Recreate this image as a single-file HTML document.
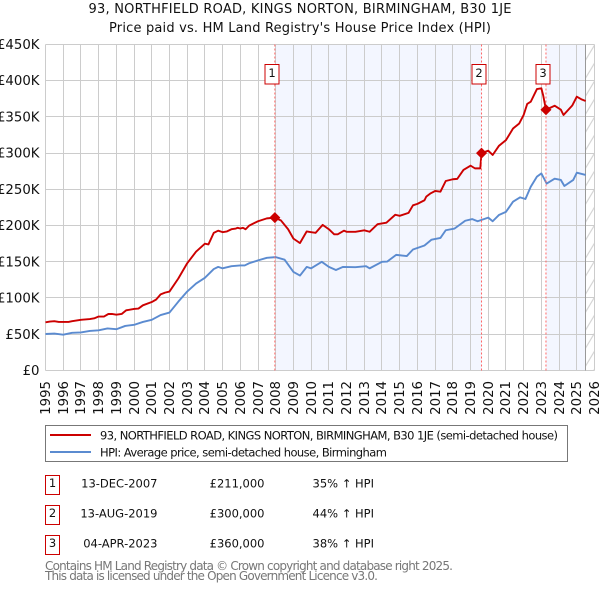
<!DOCTYPE html>
<html>
<head>
<meta charset="utf-8">
<style>
html,body{margin:0;padding:0;background:#fff;width:600px;height:590px;overflow:hidden}
svg{display:block}
text{font-family:"DejaVu Sans","Liberation Sans",sans-serif;fill:#111}
</style>
</head>
<body>
<svg id="chart" width="600" height="590" viewBox="0 0 600 590" xmlns="http://www.w3.org/2000/svg">
<defs>
<pattern id="hatch" patternUnits="userSpaceOnUse" x="584.8" y="44" width="10" height="18">
<path d="M-1 19 L11 -1" stroke="#ccc" stroke-width="1" fill="none"/>
</pattern>
</defs>
<text x="300" y="13" font-size="13" text-anchor="middle" textLength="423">93, NORTHFIELD ROAD, KINGS NORTON, BIRMINGHAM, B30 1JE</text>
<text x="300" y="32" font-size="13" text-anchor="middle" textLength="382">Price paid vs. HM Land Registry's House Price Index (HPI)</text>
<g id="shading"></g>
<g id="grid"></g>
<g id="series"></g>
<g id="markers"></g>
<g id="ticks"></g>

<g>
<rect x="45.5" y="425.5" width="522" height="36" fill="#fff" stroke="#777" stroke-width="1"/>
<line x1="50" x2="91" y1="435" y2="435" stroke="#cc0000" stroke-width="2"/>
<line x1="50" x2="91" y1="452" y2="452" stroke="#5b8bd0" stroke-width="2"/>
<text x="100" y="439.5" font-size="11.5" textLength="458">93, NORTHFIELD ROAD, KINGS NORTON, BIRMINGHAM, B30 1JE (semi-detached house)</text>
<text x="100" y="456.5" font-size="11.5" textLength="287">HPI: Average price, semi-detached house, Birmingham</text>
</g>

<g font-size="11.5">
<rect x="45.5" y="475.5" width="14" height="19" fill="#fff" stroke="#cc0000" stroke-width="1"/>
<text x="52.5" y="487" font-size="11.5" text-anchor="middle">1</text>
<text x="157.5" y="487.5" text-anchor="end" font-size="11.5">13-DEC-2007</text>
<text x="264.5" y="487.5" text-anchor="end" font-size="11.5">£211,000</text>
<text x="312.5" y="487.5" font-size="11.5">35% ↑ HPI</text>
<rect x="45.5" y="505.5" width="14" height="19" fill="#fff" stroke="#cc0000" stroke-width="1"/>
<text x="52.5" y="517" font-size="11.5" text-anchor="middle">2</text>
<text x="157.5" y="517.5" text-anchor="end" font-size="11.5">13-AUG-2019</text>
<text x="264.5" y="517.5" text-anchor="end" font-size="11.5">£300,000</text>
<text x="312.5" y="517.5" font-size="11.5">44% ↑ HPI</text>
<rect x="45.5" y="535.5" width="14" height="19" fill="#fff" stroke="#cc0000" stroke-width="1"/>
<text x="52.5" y="547" font-size="11.5" text-anchor="middle">3</text>
<text x="157.5" y="547.5" text-anchor="end" font-size="11.5">04-APR-2023</text>
<text x="264.5" y="547.5" text-anchor="end" font-size="11.5">£360,000</text>
<text x="312.5" y="547.5" font-size="11.5">38% ↑ HPI</text>
</g>

<text x="45" y="570" font-size="12" style="fill:#777" textLength="408">Contains HM Land Registry data © Crown copyright and database right 2025.</text>
<text x="45" y="580" font-size="12" style="fill:#777" textLength="333">This data is licensed under the Open Government Licence v3.0.</text>
</svg>
<script>
const yTickValues = [0, 50, 100, 150, 200, 250, 300, 350, 400, 450];
const yTickLabels = ['£0', '£50K', '£100K', '£150K', '£200K', '£250K', '£300K', '£350K', '£400K', '£450K'];
const xTickYears = [1995,1996,1997,1998,1999,2000,2001,2002,2003,2004,2005,2006,2007,2008,2009,2010,2011,2012,2013,2014,2015,2016,2017,2018,2019,2020,2021,2022,2023,2024,2025,2026];
const saleDates = [2007.95, 2019.62, 2023.26];
const salePrices = [211, 300, 360];
const saleLabels = ['1', '2', '3'];
const dataEndDate = 2025.5;
const propertyDates = [1995,1995.25,1995.5,1995.75,1996,1996.3,1996.5,1997,1997.5,1997.75,1998,1998.3,1998.55,1998.75,1999,1999.3,1999.55,2000,2000.25,2000.5,2001,2001.25,2001.5,2001.75,2002,2002.5,2003,2003.5,2004,2004.2,2004.5,2004.75,2005,2005.25,2005.5,2005.75,2005.85,2006,2006.15,2006.3,2006.5,2007,2007.5,2007.95,2008.3,2008.7,2009,2009.3,2009.37,2009.75,2010,2010.25,2010.65,2011,2011.3,2011.5,2011.85,2012,2012.5,2013,2013.3,2013.75,2014,2014.25,2014.75,2015,2015.5,2015.75,2016,2016.4,2016.5,2016.75,2017,2017.3,2017.6,2018,2018.25,2018.6,2019,2019.25,2019.55,2019.62,2020,2020.25,2020.6,2021,2021.4,2021.75,2022,2022.2,2022.4,2022.75,2023,2023.1,2023.26,2023.75,2024.1,2024.25,2024.75,2025,2025.25,2025.5];
const propertyPrices = [66.5,67.5,68,67,67,67,68,70,71,72,74.5,74.5,78,78,77,78,83,85,85.5,90,94.5,98,105,107.5,109,127,148,164,175,174,190,193,191,192,195,196,197,196,197,195,200,206,210,211,207,195,182,177,176,192,191,190,201,195,188,188,193,191.5,191.5,193.5,191.5,202,203,204,215,213.5,217.6,228,230,235,240,244.6,247.8,246.8,261.6,264,264.5,276.8,282.8,279,279,300,303.4,297.5,310,318,334,341,352.7,368,371,388.5,389.5,380,360,365.5,360,352.7,366,378,374.5,372];
const hpiDates = [1995,1995.5,1996,1996.5,1997,1997.5,1998,1998.5,1999,1999.5,2000,2000.5,2001,2001.5,2002,2002.5,2003,2003.5,2004,2004.5,2004.75,2005,2005.5,2006,2006.25,2006.5,2007,2007.5,2008,2008.5,2009,2009.37,2009.75,2010,2010.6,2011,2011.4,2011.8,2012.5,2013.1,2013.3,2014,2014.3,2014.8,2015.4,2015.75,2016.4,2016.8,2017.3,2017.6,2018.1,2018.7,2019.1,2019.4,2020,2020.25,2020.6,2021,2021.4,2021.8,2022.1,2022.4,2022.75,2023,2023.3,2023.75,2024.1,2024.3,2024.8,2025,2025.5];
const hpiPrices = [50.4,51,49.5,52,52.5,54.6,55.5,58,57,61.5,63,67,70,76.5,80,95,109,120,128,140,143,141,144,145,145,148,152,155.6,156.5,153,136,131,143,141,150,143,138.7,143,142.6,144,141,150,150.4,159.6,158,167,172.6,180.6,183,193.6,196,206.7,209,206,211,206,214.6,219,233,239,236.7,253.7,267.6,272,258,264.8,263,254.7,263,273,270];

const NS = 'http://www.w3.org/2000/svg';
const plotLeft = 45.5, plotRight = 594.5, plotTop = 44.5, plotBottom = 370.5;
function xScale(year) { return plotLeft + (year - 1995) * (plotRight - plotLeft) / 31; }
function yScale(value) { return plotBottom - value * (plotBottom - plotTop) / 450; }
function make(tag, attrs, parent) {
  const el = document.createElementNS(NS, tag);
  for (const k in attrs) el.setAttribute(k, attrs[k]);
  parent.appendChild(el);
  return el;
}
const shading = document.getElementById('shading');
const grid = document.getElementById('grid');
const series = document.getElementById('series');
const markers = document.getElementById('markers');
const ticks = document.getElementById('ticks');

const band1 = make('rect', {x: xScale(saleDates[0]), y: plotTop, width: xScale(saleDates[1]) - xScale(saleDates[0]), height: plotBottom - plotTop, fill: '#f3f6ff'}, shading);


const band2 = make('rect', {x: xScale(saleDates[2]), y: plotTop, width: xScale(dataEndDate) - xScale(saleDates[2]), height: plotBottom - plotTop, fill: '#f3f6ff'}, shading);


const hatch = make('rect', {x: xScale(dataEndDate), y: plotTop, width: plotRight - xScale(dataEndDate), height: plotBottom - plotTop, fill: 'url(#hatch)'}, shading);



yTickValues.forEach((v, i) => {
  const y = Math.floor(yScale(v) - 0.1) + 0.5;
  const gl = make('line', {x1: plotLeft, x2: plotRight, y1: y, y2: y, stroke: '#ccc', 'stroke-width': 1}, grid);
  
  
  const t = make('text', {x: 39.5, y: yScale(v) + 4.5, 'font-size': 13.3, 'text-anchor': 'end'}, ticks);
  t.textContent = yTickLabels[i];
  
  
});
xTickYears.forEach((yr) => {
  const x = Math.floor(xScale(yr) + 0.01) + 0.5;
  const gl = make('line', {x1: x, x2: x, y1: plotTop, y2: plotBottom, stroke: '#ccc', 'stroke-width': 1}, grid);
  
  
  const t = make('text', {x: 0, y: 0, 'font-size': 13.3, 'text-anchor': 'end', transform: 'translate(' + (x + 4.5) + ',381) rotate(-90)'}, ticks);
  t.textContent = String(yr);
  
  
});
const endLine = make('line', {x1: Math.floor(xScale(dataEndDate)) + 0.5, x2: Math.floor(xScale(dataEndDate)) + 0.5, y1: plotTop, y2: plotBottom, stroke: '#999', 'stroke-width': 1}, grid);



function linePath(dates, values) {
  return dates.map((d, i) => (i ? 'L' : 'M') + xScale(d).toFixed(2) + ' ' + yScale(values[i]).toFixed(2)).join(' ');
}
const hpiLine = make('path', {d: linePath(hpiDates, hpiPrices), fill: 'none', stroke: '#5b8bd0', 'stroke-width': 1.9, 'stroke-linejoin': 'round'}, series);


const propertyLine = make('path', {d: linePath(propertyDates, propertyPrices), fill: 'none', stroke: '#cc0000', 'stroke-width': 1.9, 'stroke-linejoin': 'round'}, series);



saleDates.forEach((d, i) => {
  const x = xScale(d), y = yScale(salePrices[i]);
  const vl = make('line', {x1: x, x2: x, y1: plotTop, y2: plotBottom, stroke: '#ff6666', 'stroke-width': 1, 'stroke-dasharray': '2 2'}, markers);
  
  
  const dm = make('path', {d: 'M' + x + ' ' + (y - 5.5) + ' L' + (x + 5.5) + ' ' + y + ' L' + x + ' ' + (y + 5.5) + ' L' + (x - 5.5) + ' ' + y + ' Z', fill: '#cc0000'}, markers);
  
  
  const bx = Math.round(x - 3) - 6.5 - 0.5;
  const box = make('rect', {x: bx, y: 64.5, width: 14, height: 19.5, fill: '#fff', stroke: '#cc0000', 'stroke-width': 1}, markers);
  
  
  const lab = make('text', {x: bx + 7, y: 77, 'font-size': 11.5, 'text-anchor': 'middle'}, markers);
  lab.textContent = saleLabels[i];
  
  
});
</script>
</body>
</html>
